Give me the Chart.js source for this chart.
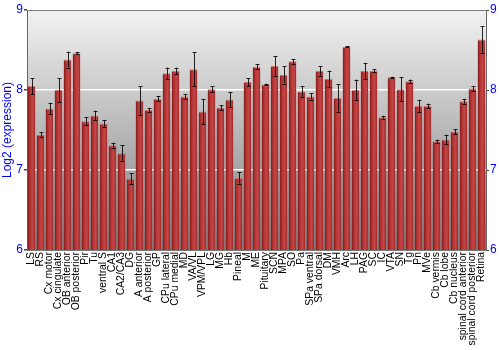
<!DOCTYPE html>
<html>
<head>
<meta charset="utf-8">
<script src="https://cdn.jsdelivr.net/npm/chart.js@4"></script>
<style>
  html, body { margin: 0; padding: 0; background: #fff; }
  #wrap { width: 500px; height: 350px; }
</style>
</head>
<body>
<div id="wrap"><canvas id="canvas" width="500" height="350"></canvas></div>
<script>
// Regions
const labels = [
  'LS', 'RS', 'Cx motor', 'Cx cingulate', 'OB anterior', 'OB posterior', 'Pir', 'Tu',
  'ventral S', 'CA1', 'CA2/CA3', 'DG', 'A anterior', 'A posterior', 'GP', 'CPu lateral',
  'CPu medial', 'MD', 'VA/VL', 'VPM/VPL', 'LG', 'MG', 'Hb', 'Pineal', 'M', 'ME',
  'Pituitary', 'SCN', 'MPA', 'SO', 'Pa', 'SPa ventral', 'SPa dorsal', 'DM', 'VMH', 'Arc',
  'LH', 'PAG', 'SC', 'IC', 'VTA', 'SN', 'Tg', 'Pn', 'MVe', 'Cb vermis', 'Cb lobe',
  'Cb nucleus', 'spinal cord anterior', 'spinal cord posterior', 'Retina'
];

// Log2 expression
const values = [
  8.05, 7.44, 7.77, 8.00, 8.38, 8.46, 7.61, 7.68,
  7.58, 7.31, 7.21, 6.89, 7.87, 7.75, 7.89, 8.21,
  8.24, 7.92, 8.26, 7.73, 8.01, 7.78, 7.88, 6.90, 8.10, 8.29,
  8.07, 8.30, 8.19, 8.36, 7.98, 7.92, 8.24, 8.14, 7.90, 8.54,
  8.00, 8.24, 8.24, 7.66, 8.16, 8.01, 8.11, 7.80, 7.80, 7.36, 7.38,
  7.48, 7.86, 8.02, 8.63
];

// Error (+/-)
const errors = [
  0.10, 0.03, 0.07, 0.15, 0.10, 0.01, 0.05, 0.06,
  0.04, 0.03, 0.10, 0.07, 0.18, 0.02, 0.03, 0.07,
  0.04, 0.03, 0.21, 0.16, 0.04, 0.03, 0.09, 0.07, 0.05, 0.03,
  0.01, 0.12, 0.11, 0.03, 0.07, 0.04, 0.06, 0.10, 0.17, 0.005,
  0.13, 0.10, 0.02, 0.02, 0.005, 0.15, 0.02, 0.08, 0.03, 0.02, 0.06,
  0.03, 0.03, 0.03, 0.17
];

const yTicks = [6, 7, 8, 9];

const FONT = "'Liberation Sans', Arial, sans-serif";

// gray gradient behind the plot
const bgPlugin = {
  id: 'bg',
  beforeDraw(chart) {
    const a = chart.chartArea;
    const c = chart.ctx;
    const g = c.createLinearGradient(0, a.top, 0, a.bottom);
    g.addColorStop(0, '#f2f2f2');
    g.addColorStop(1, '#7e7e7e');
    c.save();
    c.fillStyle = g;
    c.fillRect(a.left, a.top, a.right - a.left, a.bottom - a.top);
    c.restore();
  },
  afterDraw(chart) {
    const a = chart.chartArea;
    const c = chart.ctx;
    c.save();
    c.strokeStyle = '#808080';
    c.lineWidth = 1;
    c.beginPath();
    c.moveTo(a.left, a.top + 0.5);
    c.lineTo(a.right, a.top + 0.5);
    c.stroke();
    c.restore();
  }
};

// error bars
const errPlugin = {
  id: 'err',
  afterDatasetsDraw(chart) {
    const meta = chart.getDatasetMeta(0);
    const ys = chart.scales.y;
    const c = chart.ctx;
    c.save();
    c.strokeStyle = 'rgba(0,0,0,0.85)';
    c.lineWidth = 1;
    meta.data.forEach((bar, i) => {
      const x = Math.round(bar.x) + 0.5;
      const hi = ys.getPixelForValue(values[i] + errors[i]);
      const lo = ys.getPixelForValue(values[i] - errors[i]);
      c.beginPath();
      c.moveTo(x, hi);
      c.lineTo(x, lo);
      c.moveTo(x - 2, Math.round(hi) + 0.5);
      c.lineTo(x + 2, Math.round(hi) + 0.5);
      c.moveTo(x - 2, Math.round(lo) + 0.5);
      c.lineTo(x + 2, Math.round(lo) + 0.5);
      c.stroke();
    });
    c.restore();
  }
};

function barFill(ctx) {
  const chart = ctx.chart;
  const xs = chart.scales.x;
  if (!xs || ctx.type !== 'data' || !xs.width) return '#b03232';
  const cx = xs.getPixelForValue(ctx.dataIndex);
  const half = xs.width / labels.length * 0.43;
  const g = chart.ctx.createLinearGradient(cx - half, 0, cx + half, 0);
  g.addColorStop(0, '#7c1414');
  g.addColorStop(0.3, '#b33333');
  g.addColorStop(0.65, '#c54646');
  g.addColorStop(1, '#9c2626');
  return g;
}

const data = {
  labels: labels,
  datasets: [{
    data: values,
    backgroundColor: barFill,
    borderColor: '#d27474',
    borderWidth: { top: 1, left: 0, right: 0, bottom: 0 },
    borderSkipped: 'bottom',
    barPercentage: 0.86,
    categoryPercentage: 1.0,
    yAxisID: 'y'
  }]
};

const config = {
  type: 'bar',
  data: data,
  options: {
    responsive: false,
    animation: false,
    layout: { padding: { top: 10, left: 0, right: 0, bottom: 0 } },
    plugins: {
      legend: { display: false },
      tooltip: { enabled: false }
    },
    scales: {
      x: {
        grid: { display: false, drawTicks: false },
        border: { display: true, color: '#777' },
        ticks: {
          autoSkip: false,
          minRotation: 90,
          maxRotation: 90,
          padding: 2,
          color: '#000',
          font: { family: FONT, size: 10.4 }
        },
        afterFit(scale) { scale.height = 100; }
      },
      y: {
        min: 6,
        max: 9,
        afterBuildTicks(scale) { scale.ticks = yTicks.map(v => ({ value: v })); },
        grid: {
          color: (c) => (c.tick && (c.tick.value === 7 || c.tick.value === 8)) ? '#ffffff' : 'rgba(0,0,0,0)',
          lineWidth: 1.5,
          tickColor: '#444',
          tickLength: 3
        },
        border: { display: true, color: '#666' },
        ticks: {
          color: '#0000ff',
          padding: 1,
          font: { family: FONT, size: 12 }
        },
        title: {
          display: true,
          text: 'Log2 (expression)',
          color: '#0000ff',
          padding: 0,
          font: { family: FONT, size: 12 }
        },
        afterFit(scale) { scale.width = 27; }
      },
      y2: {
        position: 'right',
        min: 6,
        max: 9,
        afterBuildTicks(scale) { scale.ticks = yTicks.map(v => ({ value: v })); },
        grid: { drawOnChartArea: false, tickColor: '#444', tickLength: 3 },
        border: { display: true, color: '#666' },
        ticks: {
          color: '#0000ff',
          padding: 1,
          font: { family: FONT, size: 12 }
        },
        afterFit(scale) { scale.width = 14; }
      }
    }
  },
  plugins: [bgPlugin, errPlugin]
};

const canvas = document.getElementById('canvas');
const chart = new Chart(canvas, config);
</script>
</body>
</html>
